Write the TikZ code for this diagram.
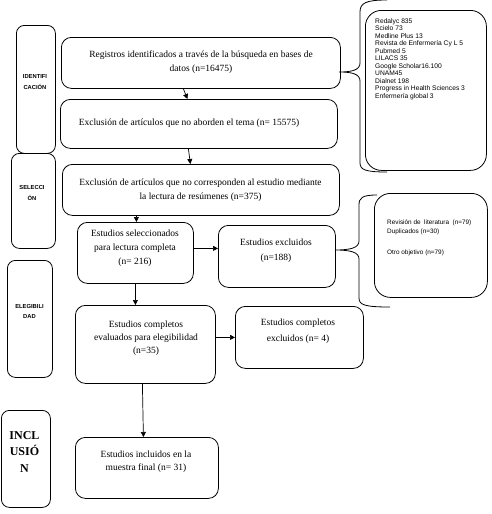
\documentclass[tikz,border=0pt]{standalone}
\usepackage{fontspec}
\setmainfont{Liberation Serif}
\newfontfamily\arialf{Liberation Sans}
\usetikzlibrary{arrows.meta}
\begin{document}
\begin{tikzpicture}[x=1pt,y=-1pt,
  box/.style={draw, line width=0.8pt, rounded corners=10pt, inner sep=0pt, anchor=north west},
  sidebox/.style={draw, line width=0.8pt, rounded corners=16pt, inner sep=0pt, anchor=north west},
  phase/.style={draw, line width=0.8pt, rounded corners=8pt, inner sep=0pt, anchor=north west},
  mtxt/.style={font=\fontsize{9.5}{14}\selectfont, align=center, inner sep=0pt},
  ptxt/.style={font=\arialf\bfseries\fontsize{5.8}{11}\selectfont, align=center, inner sep=0pt},
  ltxt/.style={font=\arialf\fontsize{6.7}{7.5}\selectfont, align=left, inner sep=0pt, anchor=north west},
  arr/.style={-{Triangle[length=5pt,width=5pt]}, line width=0.7pt},
  brace/.style={line width=0.8pt}]
\useasboundingbox (0,0) rectangle (492,514);

% phase boxes
\node[phase, minimum width=39pt, minimum height=128pt] (pident) at (16,25) {};
\node[phase, minimum width=44pt, minimum height=95pt] (psel) at (11,153) {};
\node[phase, minimum width=45pt, minimum height=117pt] (peleg) at (7,260) {};
\node[phase, minimum width=49pt, minimum height=97pt] (pincl) at (1,410) {};
\node[ptxt] (tident) at (35,82.5) {IDENTIFI\\CACIÓN};
\node[ptxt] (tsel) at (32,193) {SELECCI\\ÓN};
\node[ptxt, font=\arialf\bfseries\fontsize{5.8}{9.5}\selectfont] (teleg) at (29.5,311.5) {ELEGIBILI\\DAD};
\node[mtxt, font=\bfseries\fontsize{12}{16.5}\selectfont] (tincl) at (24.5,452) {INCL\\USIÓ\\N};

% main boxes
\node[box, minimum width=279pt, minimum height=51pt] (reg) at (61,37) {};
\node[box, minimum width=277pt, minimum height=49pt] (exc1) at (60,99) {};
\node[box, minimum width=277pt, minimum height=51pt] (exc2) at (62,164) {};
\node[box, minimum width=116pt, minimum height=61pt] (sel) at (77,222) {};
\node[box, minimum width=117pt, minimum height=62pt] (excl) at (218,225) {};
\node[box, minimum width=140pt, minimum height=78pt] (ecomp) at (75,305) {};
\node[box, minimum width=128pt, minimum height=62pt] (cexcl) at (235,306) {};
\node[box, minimum width=143pt, minimum height=61pt] (incl) at (75,437) {};

\node[mtxt] (treg) at (201,62.5) {Registros identificados a través de la búsqueda en bases de\\datos (n=16475)};
\node[mtxt] (texc1) at (189,123) {Exclusión de artículos que no aborden el tema (n= 15575)};
\node[mtxt] (texc2) at (200.5,190) {Exclusión de artículos que no corresponden al estudio mediante\\la lectura de resúmenes (n=375)};
\node[mtxt] (tsel2) at (135,248) {Estudios seleccionados\\para lectura completa\\(n= 216)};
\node[mtxt, font=\fontsize{9.5}{15}\selectfont] (texcl) at (276,250.5) {Estudios excluidos\\(n=188)};
\node[mtxt, font=\fontsize{9.5}{13}\selectfont] (tecomp) at (146,338) {Estudios completos\\evaluados para elegibilidad\\(n=35)};
\node[mtxt, font=\fontsize{9.5}{16}\selectfont] (tcexcl) at (298,331) {Estudios completos\\excluidos (n= 4)};
\node[mtxt, font=\fontsize{9.5}{13.5}\selectfont] (tincl2) at (146,461.5) {Estudios incluidos en la\\muestra final (n= 31)};

% side boxes
\node[sidebox, minimum width=121pt, minimum height=160pt] (db) at (365,10) {};
\node[ltxt] (tdb) at (375,18) {Redalyc 835\\Scielo 73\\Medline Plus 13\\Revista de Enfermería Cy L 5\\Pubmed 5\\LILACS 35\\Google Scholar16.100\\UNAM45\\Dialnet 198\\Progress in Health Sciences 3\\Enfermería global 3};
\node[sidebox, minimum width=113pt, minimum height=104pt] (exlist) at (374,193) {};
\node[ltxt, font=\arialf\fontsize{6.4}{9}\selectfont] (texlist) at (387,219.5) {Revisión de\ \ literatura\ \ (n=79)\\Duplicados (n=30)\\[12pt]Otro objetivo (n=79)};

% braces
\draw[brace] (387,0) .. controls (366,0) and (360,3) .. (360,12) -- (360,63)
  .. controls (360,70) and (352,72) .. (339,72)
  .. controls (352,72) and (360,74) .. (360,81) -- (360,163)
  .. controls (360,170) and (366,172) .. (387,172);
\draw[brace] (377,195) .. controls (362,195) and (359,198) .. (359,205) -- (359,241)
  .. controls (359,248) and (350,250) .. (335,250)
  .. controls (350,250) and (359,252) .. (359,259) -- (359,298)
  .. controls (359,305) and (365,307) .. (390,307);

% arrows
\draw[arr] ([xshift=-17.5pt]reg.south) -- ([xshift=-11.5pt]exc1.north);
\draw[arr] ([xshift=-10.5pt]exc1.south) -- ([xshift=-10.5pt]exc2.north);
\draw[arr] ([xshift=-64.5pt]exc2.south) -- ([xshift=1pt]sel.north);
\draw[arr] ([yshift=4.5pt]sel.east) -- ([yshift=8pt]excl.west);
\draw[arr] (sel.south) -- ([xshift=-10pt]ecomp.north);
\draw[arr] ([yshift=7pt]ecomp.east) -- (cexcl.west);
\draw[arr] ([xshift=-3pt]ecomp.south) -- ([xshift=-3.5pt]incl.north);
\end{tikzpicture}
\end{document}
